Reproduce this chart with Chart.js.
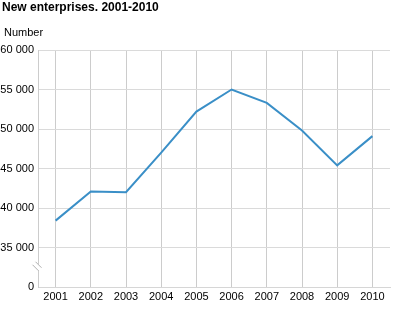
<!DOCTYPE html>
<html>
<head>
<meta charset="utf-8">
<script src="https://cdn.jsdelivr.net/npm/chart.js@4.4.0/dist/chart.umd.min.js"></script>
<style>
  html, body { margin: 0; padding: 0; background: #fff; }
  #wrap { position: relative; width: 400px; height: 320px; overflow: hidden; font-family: "Liberation Sans", Arial, sans-serif; }
  #title { position: absolute; left: 2px; top: 0px; font-size: 12px; font-weight: bold; color: #000; line-height: 15px; }
  #unit { position: absolute; left: 4px; top: 26px; font-size: 11px; color: #000; line-height: 13px; }
  canvas { position: absolute; left: 0; top: 0; }
</style>
</head>
<body>
<div id="wrap">
  <canvas id="c" width="400" height="320"></canvas>
  <div id="title">New enterprises. 2001-2010</div>
  <div id="unit">Number</div>
</div>
<script>
const years = ['2001','2002','2003','2004','2005','2006','2007','2008','2009','2010'];
const newEnterprises = [38400, 42100, 42000, 47000, 52200, 55000, 53300, 49800, 45400, 49100];
const yTickValues = [30000, 35000, 40000, 45000, 50000, 55000, 60000];
const yTickLabels = ['0', '35 000', '40 000', '45 000', '50 000', '55 000', '60 000'];

const breakPlugin = {
  id: 'axisBreak',
  afterDraw(chart) {
    const y = chart.scales.y;
    const ctx = chart.ctx;
    const x0 = y.right;
    const yc = (y.getPixelForValue(yTickValues[0]) + y.getPixelForValue(yTickValues[1])) / 2;
    ctx.save();
    ctx.fillStyle = '#fff';
    ctx.fillRect(x0 - 2, yc - 3, 4, 6);
    ctx.strokeStyle = '#b0b0b0';
    ctx.lineWidth = 1;
    for (const d of [-1.5, 1.5]) {
      ctx.beginPath();
      ctx.moveTo(x0 - 4 + d, yc - 4 - d);
      ctx.lineTo(x0 + 2 + d, yc + 2 - d);
      ctx.stroke();
    }
    ctx.restore();
  }
};

new Chart(document.getElementById('c'), {
  type: 'line',
  data: {
    labels: years,
    datasets: [{
      data: newEnterprises,
      borderColor: '#3a8fc7',
      borderWidth: 2,
      pointRadius: 0,
      tension: 0,
      fill: false
    }]
  },
  options: {
    responsive: false,
    animation: false,
    devicePixelRatio: 1,
    layout: { padding: { left: 0, right: 10, top: 50, bottom: 0 } },
    plugins: { legend: { display: false }, tooltip: { enabled: false }, title: { display: false } },
    scales: {
      x: {
        offset: true,
        grid: { offset: false, color: '#cccccc', lineWidth: 1, drawTicks: false },
        border: { display: true, color: '#d6d6d6' },
        ticks: { color: '#000', font: { family: 'Liberation Sans', size: 11 }, padding: 3, maxRotation: 0, autoSkip: false },
        afterFit(s) { s.height = 33; }
      },
      y: {
        min: 30000,
        max: 60000,
        afterBuildTicks(s) { s.ticks = yTickValues.map(v => ({ value: v })); },
        grid: { color: '#dadada', lineWidth: 1, drawTicks: false },
        border: { display: true, color: '#cccccc' },
        ticks: {
          color: '#000',
          font: { family: 'Liberation Sans', size: 11 },
          padding: 4,
          callback(v) { const i = yTickValues.indexOf(v); return i >= 0 ? yTickLabels[i] : ''; }
        },
        afterFit(s) { s.width = 38; }
      }
    }
  },
  plugins: [breakPlugin]
});
</script>
</body>
</html>
